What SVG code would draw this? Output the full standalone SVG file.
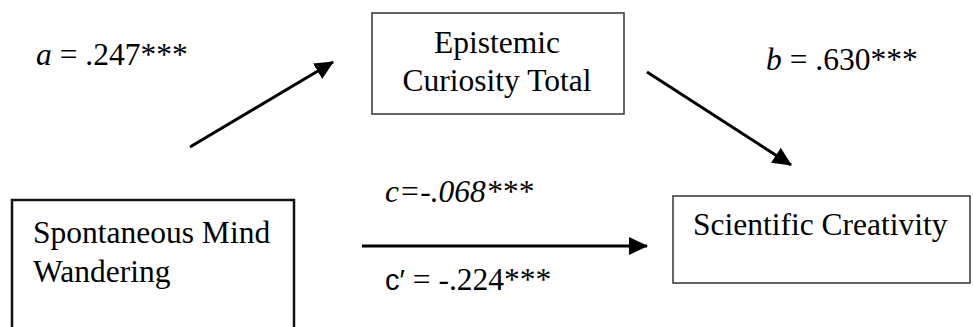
<svg xmlns="http://www.w3.org/2000/svg" width="973" height="327" viewBox="0 0 973 327">
<style>
.t{font-family:"Liberation Serif","Times New Roman",serif;font-size:31.5px;fill:#000}
.i{font-style:italic}
.s{font-family:"Liberation Sans",Arial,sans-serif;font-size:29px}
.box{fill:#fff;stroke:#333;stroke-width:1.5}
.ln{stroke:#000;stroke-width:3;fill:none}
</style>
<defs>
<marker id="ah" markerUnits="userSpaceOnUse" markerWidth="20" markerHeight="18" refX="18" refY="9" orient="auto">
<path d="M0,0 L19,9 L0,18 Z" fill="#000"/>
</marker>
</defs>
<rect width="973" height="327" fill="#fff"/>
<g id="connectors">
<line class="ln" x1="190" y1="147" x2="333" y2="62" marker-end="url(#ah)"/>
<line class="ln" x1="647" y1="72" x2="791" y2="165" marker-end="url(#ah)"/>
<line class="ln" x1="362" y1="246" x2="647" y2="246" marker-end="url(#ah)"/>
</g>
<g id="epistemic">
<rect class="box" x="372" y="13" width="252" height="101"/>
<text class="t" x="497" y="53" text-anchor="middle">Epistemic</text>
<text class="t" x="497" y="91" text-anchor="middle">Curiosity Total</text>
</g>
<g id="spontaneous">
<rect class="box" x="12" y="200" width="282" height="140" style="stroke:#111;stroke-width:2.5"/>
<text class="t" x="33" y="243">Spontaneous Mind</text>
<text class="t" x="33" y="282">Wandering</text>
</g>
<g id="scientific">
<rect class="box" x="673" y="196" width="297" height="87"/>
<text class="t" x="693" y="235">Scientific Creativity</text>
</g>
<g id="labels">
<text class="t" x="36" y="65"><tspan class="i">a</tspan> = .247***</text>
<text class="t" x="766" y="70"><tspan class="i">b</tspan> = .630***</text>
<text class="t i" x="385" y="202">c=-.068***</text>
<text class="t" x="385" y="290"><tspan class="s">c′</tspan> = -.224***</text>
</g>
</svg>
